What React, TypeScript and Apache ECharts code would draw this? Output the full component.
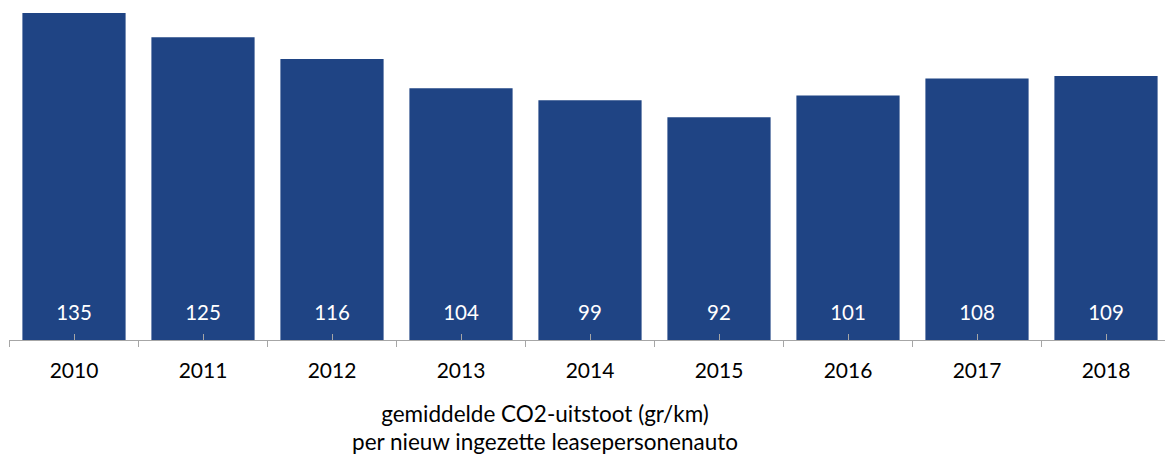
import React, { useEffect, useRef } from "react";
import * as echarts from "echarts";

const years = ["2010", "2011", "2012", "2013", "2014", "2015", "2016", "2017", "2018"];
const co2Values = [135, 125, 116, 104, 99, 92, 101, 108, 109];
const titleLines = ["gemiddelde CO2-uitstoot (gr/km)", "per nieuw ingezette leasepersonenauto"];

const FONT = "Lato, 'Open Sans', sans-serif";
const BAR = "#1F4484";
const AXIS = "#A6A6A6";

export default function App() {
  const ref = useRef<HTMLDivElement>(null);
  useEffect(() => {
    if (!ref.current) return;
    const chart = echarts.init(ref.current, undefined, { renderer: "svg" });
    chart.setOption({
      animation: false,
      backgroundColor: "#ffffff",
      grid: { left: 9.5, width: 1161, top: 1, bottom: 115, containLabel: false },
      xAxis: [
        {
          type: "category",
          data: years,
          position: "bottom",
          axisLine: { show: true, lineStyle: { color: AXIS, width: 1 } },
          axisTick: { show: true, length: 7, lineStyle: { color: AXIS } },
          axisLabel: { color: "#000", fontSize: 21, fontFamily: FONT, margin: 19 },
          splitLine: { show: false },
        },
        {
          type: "category",
          data: years,
          position: "bottom",
          z: 10,
          axisLine: { show: false },
          axisTick: { show: true, inside: true, alignWithLabel: true, length: 6, lineStyle: { color: AXIS } },
          axisLabel: { show: false },
          splitLine: { show: false },
        },
      ],
      yAxis: {
        type: "value",
        min: 0,
        max: 140,
        show: false,
        splitLine: { show: false },
      },
      series: [
        {
          type: "bar",
          data: co2Values,
          barCategoryGap: "20%",
          itemStyle: { color: BAR },
          label: {
            show: true,
            position: "insideBottom",
            distance: 18,
            color: "#fff",
            fontSize: 20.5,
            fontFamily: FONT,
          },
        },
      ],
      graphic: [
        {
          type: "text",
          x: 545,
          y: 413,
          style: {
            text: titleLines[0],
            fill: "#000",
            font: `22.5px ${FONT}`,
            textAlign: "center",
            textVerticalAlign: "middle",
          },
        },
        {
          type: "text",
          x: 545,
          y: 441,
          style: {
            text: titleLines[1],
            fill: "#000",
            font: `22.5px ${FONT}`,
            textAlign: "center",
            textVerticalAlign: "middle",
          },
        },
      ],
    });
    return () => chart.dispose();
  }, []);
  return (
    <div
      style={{ position: "absolute", left: 0, top: 0, width: 1165, height: 455, overflow: "hidden" }}
    >
      <div ref={ref} style={{ width: 1175, height: 455 }} />
    </div>
  );
}
